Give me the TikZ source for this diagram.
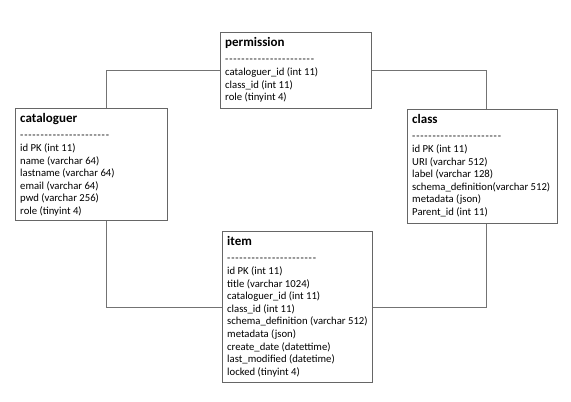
\documentclass[tikz,border=0pt]{standalone}
\usepackage{fontspec}
\setmainfont{Carlito}
\begin{document}
\begin{tikzpicture}[x=1pt,y=-1pt,
  tbl/.style={draw=black!60, line width=0.9pt, inner sep=0pt, anchor=north west},
  body/.style={anchor=north west, inner sep=0pt, align=left,
    font=\fontsize{10.7}{12.6}\selectfont},
  link/.style={draw=black!55, line width=0.9pt}]
\useasboundingbox (0,0) rectangle (571,402);
\newcommand{\ttl}[1]{{\fontsize{13}{16}\selectfont\bfseries #1}\\[4pt]}
\newcommand{\dsh}{-\kern0.8pt}
\newcommand{\dashline}{\dsh\dsh\dsh\dsh\dsh\dsh\dsh\dsh\dsh\dsh\dsh\dsh\dsh\dsh\dsh\dsh\dsh\dsh\dsh\dsh\dsh\dsh}

% tables
\node[tbl, minimum width=151pt, minimum height=76pt] (perm) at (220,32) {};
\node[tbl, minimum width=152pt, minimum height=112pt] (cat) at (15,108) {};
\node[tbl, minimum width=150pt, minimum height=114pt] (cls) at (407,109) {};
\node[tbl, minimum width=150pt, minimum height=151pt] (item) at (222,231) {};

% table contents
\node[body] (perm-t) at ([xshift=5pt,yshift=-5pt]perm.north west)
  {\ttl{permission}\dashline\\ cataloguer\_id (int 11)\\ class\_id (int 11)\\ role (tinyint 4)};
\node[body] (cat-t) at ([xshift=5pt,yshift=-5pt]cat.north west)
  {\ttl{cataloguer}\dashline\\ id PK (int 11)\\ name (varchar 64)\\ lastname (varchar 64)\\ email (varchar 64)\\ pwd (varchar 256)\\ role (tinyint 4)};
\node[body] (cls-t) at ([xshift=5pt,yshift=-5pt]cls.north west)
  {\ttl{class}\dashline\\ id PK (int 11)\\ URI (varchar 512)\\ label (varchar 128)\\ schema\_definition(varchar 512)\\ metadata (json)\\ Parent\_id (int 11)};
\node[body] (item-t) at ([xshift=5pt,yshift=-5pt]item.north west)
  {\ttl{item}\dashline\\ id PK (int 11)\\ title (varchar 1024)\\ cataloguer\_id (int 11)\\ class\_id (int 11)\\ schema\_definition (varchar 512)\\ metadata (json)\\ create\_date (datettime)\\ last\_modified (datetime)\\ locked (tinyint 4)};

% relationship lines
\coordinate (lx) at (106,0);
\coordinate (rx) at (486,0);
\draw[link] (cat.north -| lx) |- (perm.west);
\draw[link] (perm.east) -| (cls.north -| rx);
\draw[link] (cat.south -| lx) |- (item.west);
\draw[link] (cls.south -| rx) |- (item.east);
\end{tikzpicture}
\end{document}
